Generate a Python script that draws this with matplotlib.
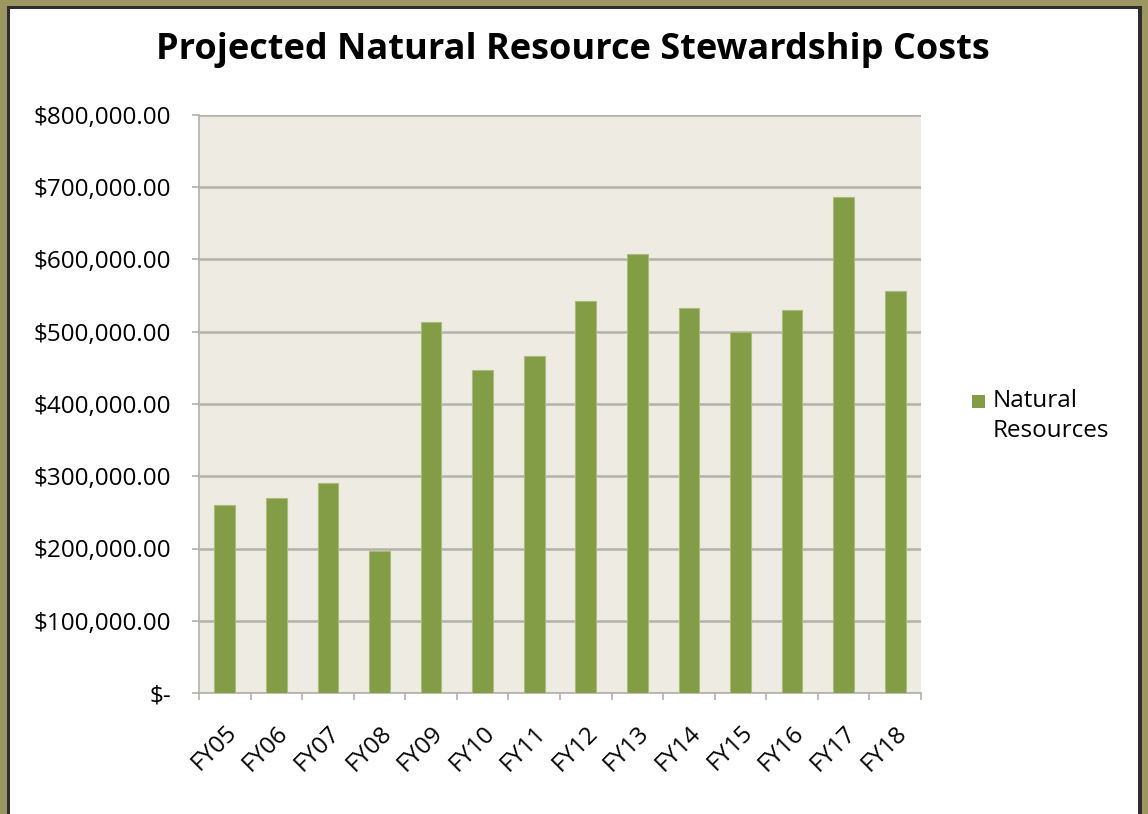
import matplotlib
matplotlib.use("Agg")
import matplotlib.pyplot as plt
from matplotlib.patches import Rectangle
from matplotlib.ticker import FuncFormatter

# Projected stewardship costs per fiscal year
years = ["FY05", "FY06", "FY07", "FY08", "FY09", "FY10", "FY11",
         "FY12", "FY13", "FY14", "FY15", "FY16", "FY17", "FY18"]
costs = [260000, 270000, 291000, 196000, 514000, 447000, 467000,
         542000, 607000, 533000, 500000, 530000, 687000, 557000]
series_name = "Natural Resources"
title = "Projected Natural Resource Stewardship Costs"

BAR = "#839C46"
BAR_EDGE = "#A9BC7A"
PLOT_BG = "#EEEBE3"
GRID = "#B2B1AB"
FRAME = "#9C9663"
DARK = "#2E2E2E"

plt.rcParams["font.family"] = ["Open Sans", "DejaVu Sans"]

W, H = 1148, 814
fig = plt.figure(figsize=(W / 100, H / 100), dpi=100)
fig.patch.set_facecolor(FRAME)


def px_rect(x0, y0, x1, y1, color):
    # rectangle given in pixel coords, y measured from the top
    fig.patches.append(Rectangle((x0 / W, 1 - y1 / H), (x1 - x0) / W, (y1 - y0) / H,
                                 transform=fig.transFigure, facecolor=color,
                                 edgecolor="none", zorder=-10))


px_rect(7, 6, 1142, H + 5, DARK)
px_rect(10, 9, 1138, H + 5, "white")

ax = fig.add_axes([199 / W, (H - 693) / H, 722 / W, 578 / H])
ax.set_facecolor(PLOT_BG)

x = range(len(years))
ax.bar(x, costs, width=0.4, color=BAR, edgecolor=BAR_EDGE, linewidth=0.8, zorder=3)

ax.set_xlim(-0.5, len(years) - 0.5)
ax.set_ylim(0, 800000)
ax.set_yticks(range(0, 800001, 100000))


def money(v, pos):
    if v == 0:
        return "$-"
    return f"${v:,.2f}"


ax.yaxis.set_major_formatter(FuncFormatter(money))
ax.grid(axis="y", color=GRID, linewidth=1.8, zorder=1)

ax.set_xticks(list(x))
ax.set_xticklabels(years, rotation=45, ha="right", rotation_mode="anchor")
ax.set_xticks([i - 0.5 for i in range(len(years) + 1)], minor=True)
ax.tick_params(axis="x", which="major", length=0, pad=20, labelsize=17.5)
ax.tick_params(axis="x", which="minor", length=5, color=GRID, width=1.2)
ax.tick_params(axis="y", length=5, color=GRID, width=1.2, pad=15, labelsize=17.5)

for side in ["top", "right"]:
    ax.spines[side].set_visible(False)
ax.spines["left"].set_color(GRID)
ax.spines["bottom"].set_color(GRID)
ax.spines["left"].set_linewidth(1.2)
ax.spines["bottom"].set_linewidth(1.2)

fig.text(573 / W, 1 - 50 / H, title, ha="center", va="center",
         fontsize=26, fontweight="bold")

# legend: square marker plus wrapped label
px_rect(972, 395, 985, 408, BAR)
fig.text(993 / W, 1 - 401 / H, "Natural", ha="left", va="center", fontsize=17.5)
fig.text(993 / W, 1 - 431 / H, "Resources", ha="left", va="center", fontsize=17.5)

fig.savefig("out.png", dpi=100, facecolor=fig.get_facecolor())
